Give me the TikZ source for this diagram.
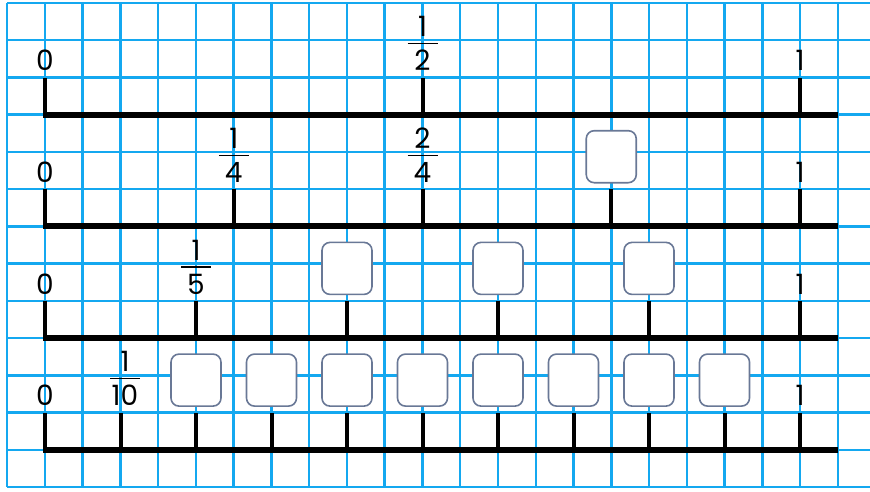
\documentclass[tikz,border=0pt]{standalone}
\usepackage{fontspec}
\setmainfont{Poppins}
\usetikzlibrary{positioning}
\definecolor{gridblue}{RGB}{20,168,240}
\definecolor{boxedge}{RGB}{105,120,150}
\tikzstyle{gridline} = [gridblue, line width=2.5pt]
\tikzstyle{numline} = [line width=6pt]
\tikzstyle{tickline} = [line width=4pt]
\tikzstyle{answerbox} = [draw=boxedge, fill=white, line width=1.6pt, rounded corners=8pt, minimum width=50pt, minimum height=52pt, inner sep=0pt]
\tikzstyle{lbl} = [font=\fontsize{28}{30}\selectfont, inner sep=0pt, anchor=south]
\newcommand{\fracl}[2]{\vbox{\offinterlineskip\halign{\hfil##\hfil\cr #1\cr\noalign{\kern6pt}\vrule width 30pt height 1.6pt\cr\noalign{\kern6pt}#2\cr}}}

\begin{document}
\begin{tikzpicture}[x=1pt, y=-1pt]
    \useasboundingbox (0,0) rectangle (870,491);
    % Grid
    \foreach \i in {0,...,22} \draw[gridline] (7+37.77*\i, 3) -- (7+37.77*\i, 487);
    \foreach \j in {0,...,13} \draw[gridline] (7, 3+37.23*\j) -- (870, 3+37.23*\j);

    % Row 1: halves
    \draw[numline] (43,114.7) -- (838,114.7);
    \foreach \k in {0,1,2} \draw[tickline] (45+377.5*\k, 117) -- (45+377.5*\k, 77.5);
    \node[lbl] (zeroA) at (45,71) {0};
    \node[lbl] (halfA) at (422.5,71) {\fracl{1}{2}};
    \node[lbl] (oneA) at (800,71) {1};

    % Row 2: quarters
    \draw[numline] (43,226.4) -- (838,226.4);
    \foreach \k in {0,...,4} \draw[tickline] (45+188.75*\k, 228.7) -- (45+188.75*\k, 189.2);
    \node[lbl] (zeroB) at (45,182.7) {0};
    \node[lbl] (quarterB) at (233.75,182.7) {\fracl{1}{4}};
    \node[lbl] (twoqB) at (422.5,182.7) {\fracl{2}{4}};
    \node[answerbox] (boxB3) at (611.25,156.7) {};
    \node[lbl] (oneB) at (800,182.7) {1};

    % Row 3: fifths
    \draw[numline] (43,338.1) -- (838,338.1);
    \foreach \k in {0,...,5} \draw[tickline] (45+151*\k, 340.4) -- (45+151*\k, 300.9);
    \node[lbl] (zeroC) at (45,294.4) {0};
    \node[lbl] (fifthC) at (196,294.4) {\fracl{1}{5}};
    \foreach \k in {2,3,4} \node[answerbox] (boxC\k) at (45+151*\k, 268.4) {};
    \node[lbl] (oneC) at (800,294.4) {1};

    % Row 4: tenths
    \draw[numline] (43,449.8) -- (838,449.8);
    \foreach \k in {0,...,10} \draw[tickline] (45+75.5*\k, 452.1) -- (45+75.5*\k, 412.6);
    \node[lbl] (zeroD) at (45,406.1) {0};
    \node[lbl] (tenthD) at (125,406.1) {\fracl{1}{10}};
    \foreach \k in {2,...,9} \node[answerbox] (boxD\k) at (45+75.5*\k, 380.1) {};
    \node[lbl] (oneD) at (800,406.1) {1};
\end{tikzpicture}
\end{document}
